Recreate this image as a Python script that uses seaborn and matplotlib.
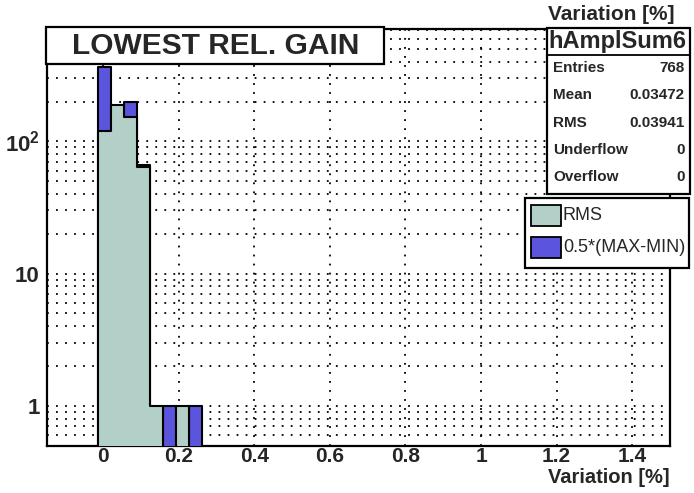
import numpy as np
import pandas as pd
import matplotlib
matplotlib.use("Agg")
import matplotlib.pyplot as plt
import matplotlib.ticker as mticker
from matplotlib.patches import Rectangle
import seaborn as sns

# bins and counts
bin_edges = [-0.0125, 0.021875, 0.05625, 0.090625, 0.125, 0.159375, 0.19375, 0.228125, 0.2625]
rms_counts = [119, 189, 152, 64, 1, 0, 1, 0]
maxmin_counts = [364, 140, 197, 66, 0, 1, 0, 1]

x_ticks = [0, 0.2, 0.4, 0.6, 0.8, 1.0, 1.2, 1.4]
x_tick_labels = ["0", "0.2", "0.4", "0.6", "0.8", "1", "1.2", "1.4"]
y_ticks = [1, 10, 100]
y_tick_labels = ["1", "10", r"$\mathbf{10^{2}}$"]

stats_names = ["Entries", "Mean", "RMS", "Underflow", "Overflow"]
stats_values = ["768", "0.03472", "0.03941", "0", "0"]
legend_labels = ["RMS", "0.5*(MAX-MIN)"]

green = "#b2d0c8"
blue = "#5a55dc"

sns.set_style("white")
plt.rcParams["font.family"] = ["Liberation Sans", "DejaVu Sans"]
plt.rcParams["mathtext.fontset"] = "custom"
plt.rcParams["mathtext.bf"] = "Liberation Sans:bold"
plt.rcParams["mathtext.rm"] = "Liberation Sans"

W, H = 694, 493
fig = plt.figure(figsize=(W / 100, H / 100), dpi=100)


def fx(px):
    return px / W


def fy(py):
    return 1 - py / H


ax = fig.add_axes([fx(46.5), fy(445.5), (670 - 46.5) / W, (445.5 - 29.3) / H])

edges = np.array(bin_edges)
centers = (edges[:-1] + edges[1:]) / 2
df = pd.DataFrame({"center": centers, "rms": rms_counts, "maxmin": maxmin_counts})

ax.set_yscale("log")
sns.histplot(data=df, x="center", weights="maxmin", bins=bin_edges, element="step",
             fill=True, color=blue, alpha=1, edgecolor="black", linewidth=1.5, ax=ax, zorder=3)
sns.histplot(data=df, x="center", weights="rms", bins=bin_edges, element="step",
             fill=True, color=green, alpha=1, edgecolor="black", linewidth=1.5, ax=ax, zorder=4)

ax.set_xlim(-0.15, 1.5)
ax.set_ylim(0.5, 705)
ax.set_xlabel("")
ax.set_ylabel("")

# axes ticks
ax.set_xticks(x_ticks)
ax.set_xticklabels(x_tick_labels, fontsize=15, fontweight="bold")
ax.xaxis.set_minor_locator(mticker.MultipleLocator(0.05))
ax.yaxis.set_major_locator(mticker.FixedLocator(y_ticks))
ax.set_yticklabels(y_tick_labels, fontsize=16, fontweight="bold")
ax.yaxis.set_minor_locator(mticker.LogLocator(base=10, subs=range(2, 10)))
ax.yaxis.set_minor_formatter(mticker.NullFormatter())
ax.tick_params(which="both", direction="in", top=False, right=False, color="black", width=1.5)
ax.tick_params(axis="x", which="major", length=9, pad=1)
ax.tick_params(axis="x", which="minor", length=4.5)
ax.tick_params(axis="y", which="major", length=9, pad=5)
ax.tick_params(axis="y", which="minor", length=5.5)
for s in ax.spines.values():
    s.set_linewidth(1.6)
    s.set_color("black")

# dotted grid
ax.set_axisbelow(True)
ax.grid(True, axis="y", which="both", color="black", linestyle=(0, (1, 4)), linewidth=1.3)
ax.grid(True, axis="x", which="major", color="black", linestyle=(0, (1, 4)), linewidth=1.3)

# axis titles (ROOT style)
fig.text(fx(670), fy(483), "Variation [%]", ha="right", va="baseline", fontsize=14.5, fontweight="bold")
fig.text(fx(674), fy(20.5), "Variation [%]", ha="right", va="baseline", fontsize=15, fontweight="bold")

# title pave
fig.add_artist(Rectangle((fx(46), fy(64.3)), (384 - 46) / W, (64.3 - 26.7) / H,
                         transform=fig.transFigure, fc="white", ec="black", lw=1.6, zorder=10))
fig.text(fx(216), fy(45.5), "LOWEST REL. GAIN", ha="center", va="center",
         fontsize=21.5, fontweight="bold", zorder=11)

# stats box
fig.add_artist(Rectangle((fx(546.5), fy(194)), (690 - 546.5) / W, (194 - 28.3) / H,
                         transform=fig.transFigure, fc="white", ec="black", lw=1.6, zorder=10))
fig.add_artist(plt.Line2D([fx(546.5), fx(690)], [fy(55), fy(55)], transform=fig.transFigure,
                          color="black", lw=1.3, zorder=11))
fig.text(fx(617), fy(41.5), "hAmplSum6", ha="center", va="center", fontsize=17,
         fontweight="bold", zorder=11)
row_y = [68, 95, 123, 150, 177]
for name, val, yy in zip(stats_names, stats_values, row_y):
    fig.text(fx(553), fy(yy), name, ha="left", va="center", fontsize=11, fontweight="bold", zorder=11)
    fig.text(fx(685), fy(yy), val, ha="right", va="center", fontsize=11, fontweight="bold", zorder=11)

# legend
fig.add_artist(Rectangle((fx(524.5), fy(268)), (689 - 524.5) / W, (268 - 198) / H,
                         transform=fig.transFigure, fc="white", ec="black", lw=1.6, zorder=10))
for lab, col, yy in zip(legend_labels, [green, blue], [215.5, 247.5]):
    fig.add_artist(Rectangle((fx(530.5), fy(yy + 10.5)), 30 / W, 21 / H, transform=fig.transFigure,
                             fc=col, ec="black", lw=1.3, zorder=11))
    fig.text(fx(563), fy(yy), lab, ha="left", va="center", fontsize=13, zorder=11)

fig.savefig("out.png", dpi=100)
